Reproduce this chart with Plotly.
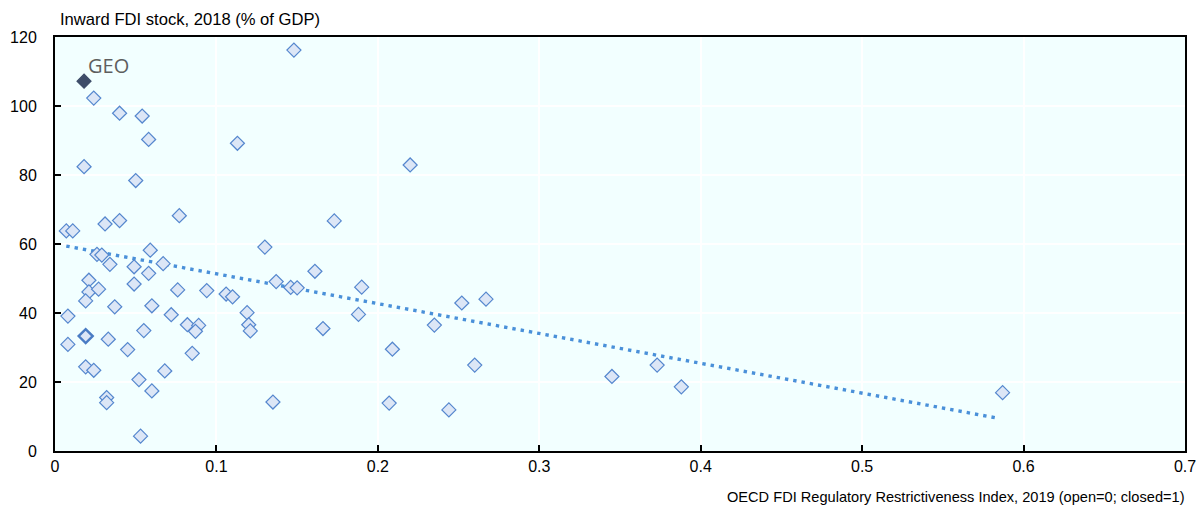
import plotly.graph_objects as go

# Data
fdi_index = [0.024, 0.040, 0.054, 0.058, 0.113, 0.018, 0.050, 0.148, 0.220, 0.077,
             0.031, 0.040, 0.007, 0.011, 0.059, 0.026, 0.029, 0.034, 0.049, 0.058,
             0.067, 0.021, 0.021, 0.027, 0.049, 0.076, 0.094, 0.106, 0.110, 0.019,
             0.037, 0.060, 0.008, 0.072, 0.119, 0.120, 0.121, 0.082, 0.089, 0.087,
             0.055, 0.173, 0.130, 0.161, 0.137, 0.146, 0.150, 0.190, 0.188, 0.235,
             0.166, 0.008, 0.033, 0.045, 0.085, 0.019, 0.024, 0.068, 0.052, 0.060,
             0.032, 0.032, 0.053, 0.209, 0.135, 0.207, 0.244, 0.252, 0.267, 0.260,
             0.345, 0.373, 0.388, 0.587]
fdi_stock = [102.3, 97.9, 97.1, 90.3, 89.2, 82.4, 78.4, 116.2, 82.9, 68.2,
             65.8, 66.8, 63.8, 63.8, 58.2, 57.0, 56.8, 54.1, 53.4, 51.5,
             54.3, 49.5, 46.1, 46.9, 48.4, 46.7, 46.5, 45.5, 44.7, 43.5,
             41.8, 42.1, 39.1, 39.5, 40.1, 36.6, 34.8, 36.6, 36.4, 34.7,
             34.9, 66.7, 59.1, 52.1, 49.1, 47.4, 47.3, 47.5, 39.6, 36.5,
             35.5, 30.9, 32.4, 29.4, 28.3, 24.4, 23.4, 23.2, 20.7, 17.4,
             15.5, 14.0, 4.3, 29.5, 14.2, 13.9, 11.9, 42.9, 44.0, 24.9,
             21.6, 24.9, 18.6, 16.9]

highlight_x = [0.019]
highlight_y = [33.3]

geo_label = "GEO"
geo_x = [0.018]
geo_y = [107.2]

trend_x = [0.007, 0.583]
trend_y = [59.4, 9.6]

x_ticks = [0, 0.1, 0.2, 0.3, 0.4, 0.5, 0.6, 0.7]
x_ticktext = ["0", "0.1", "0.2", "0.3", "0.4", "0.5", "0.6", "0.7"]
y_ticks = [0, 20, 40, 60, 80, 100, 120]

y_title = "Inward FDI stock, 2018 (% of GDP)"
x_title = "OECD FDI Regulatory Restrictiveness Index, 2019 (open=0; closed=1)"

FONT = "Liberation Sans, Arial, sans-serif"

fig = go.Figure()

fig.add_trace(go.Scatter(
    x=trend_x, y=trend_y, mode="lines",
    line=dict(color="#4A90D9", width=3.4, dash="3.4px,5px"),
    hoverinfo="skip", showlegend=False))

fig.add_trace(go.Scatter(
    x=fdi_index, y=fdi_stock, mode="markers",
    marker=dict(symbol="diamond", size=10.8, color="#DCE6F6",
                line=dict(color="#5587CE", width=1.2)),
    showlegend=False))

fig.add_trace(go.Scatter(
    x=highlight_x, y=highlight_y, mode="markers",
    marker=dict(symbol="diamond", size=10.8, color="#DCE6F6",
                line=dict(color="#4A7CC4", width=2.4)),
    showlegend=False))

fig.add_trace(go.Scatter(
    x=geo_x, y=geo_y, mode="markers",
    marker=dict(symbol="diamond", size=10.8, color="#3E4D69",
                line=dict(color="#3E4D69", width=1.2)),
    showlegend=False))

fig.add_annotation(x=geo_x[0], y=geo_y[0], text=geo_label, showarrow=False,
                   xanchor="left", yanchor="bottom", xshift=2, yshift=0,
                   font=dict(family="Open Sans, sans-serif", size=20, color="#5E5E5E"))

fig.add_annotation(x=0, y=1, xref="paper", yref="paper", text=y_title,
                   showarrow=False, xanchor="left", yanchor="bottom",
                   xshift=3, yshift=6,
                   font=dict(family=FONT, size=16.6, color="#000000"))

fig.add_annotation(x=1, y=0, xref="paper", yref="paper", text=x_title,
                   showarrow=False, xanchor="right", yanchor="top",
                   xshift=2, yshift=-36,
                   font=dict(family=FONT, size=14.6, color="#000000"))

axis_common = dict(
    showline=True, linecolor="#000000", linewidth=2, mirror=True,
    ticks="inside", ticklen=6, tickwidth=2, tickcolor="#000000",
    showgrid=True, gridcolor="#FFFFFF", gridwidth=2, zeroline=False,
    automargin=False,
    tickfont=dict(family=FONT, size=16, color="#000000"),
)

fig.update_xaxes(range=[0, 0.7], tickvals=x_ticks, ticktext=x_ticktext,
                 ticklabelstandoff=0, **axis_common)
fig.update_yaxes(range=[0, 120], tickvals=y_ticks,
                 ticklabelstandoff=13, **axis_common)

fig.update_layout(
    width=1198, height=508,
    margin=dict(l=55, r=13, t=37, b=57),
    plot_bgcolor="#F2FFFF", paper_bgcolor="#FFFFFF",
    showlegend=False,
)

fig.write_html("out.html")
